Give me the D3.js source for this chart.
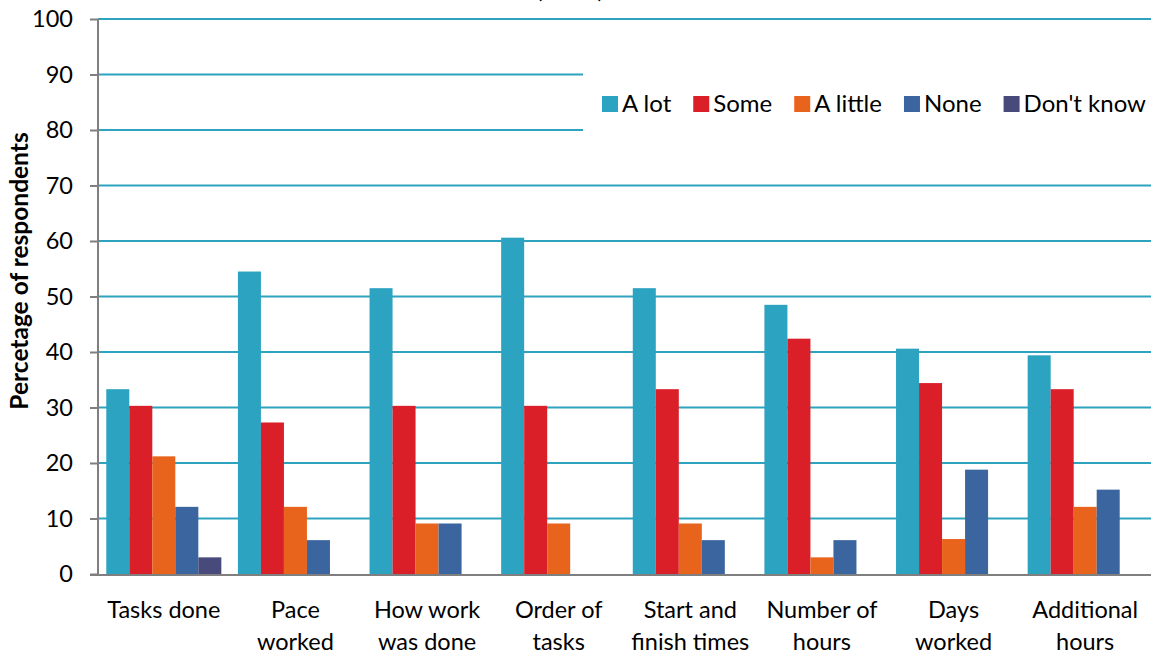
<!DOCTYPE html>
<html lang="en">
<head>
<meta charset="UTF-8">
<script src="https://d3js.org/d3.v7.min.js"></script>
<title>Control over work</title>
<style>
    body { margin: 0; background: #fff; }
    svg { display: block; font-family: Lato, "Open Sans", sans-serif; }
</style>
</head>
<body>
<svg width="1151" height="655"></svg>
<script>
    // data (percent of respondents)
    var categories = [["Tasks done"], ["Pace", "worked"], ["How work", "was done"], ["Order of", "tasks"],
        ["Start and", "finish times"], ["Number of", "hours"], ["Days", "worked"], ["Additional", "hours"]];
    var seriesNames = ["A lot", "Some", "A little", "None", "Don't know"];
    var aLot     = [33.3, 54.5, 51.5, 60.6, 51.5, 48.5, 40.6, 39.4];
    var some     = [30.3, 27.3, 30.3, 30.3, 33.3, 42.4, 34.4, 33.3];
    var aLittle  = [21.2, 12.1, 9.1, 9.1, 9.1, 3.0, 6.3, 12.1];
    var none     = [12.1, 6.1, 9.1, 0, 6.1, 6.1, 18.8, 15.2];
    var dontKnow = [3.0, 0, 0, 0, 0, 0, 0, 0];
    var yTicks = [0, 10, 20, 30, 40, 50, 60, 70, 80, 90, 100];

    var colors = ["#2ca3c0", "#da1f29", "#e8641c", "#3a659e", "#474a7a"];
    var seriesValues = [aLot, some, aLittle, none, dontKnow];

    var svg = d3.select("svg");
    var plotL = 98, plotR = 1151, plotT = 19, plotB = 574;
    var fs = 23.5;

    var x = d3.scaleBand().domain(d3.range(categories.length)).range([plotL, plotR]);
    var xs = d3.scaleBand().domain(d3.range(seriesNames.length))
        .range([0, x.bandwidth()]).paddingOuter(0.36);
    var y = d3.scaleLinear().domain([0, 100]).range([plotB, plotT]);

    // title (cropped at top)
    svg.append("text")
        .attr("x", 570).attr("y", -2)
        .attr("text-anchor", "middle")
        .attr("font-size", 24)
        .text("(n=33)");

    // gridlines
    svg.append("g").selectAll("line")
        .data(yTicks.filter(d => d > 0))
        .enter().append("line")
        .attr("x1", plotL).attr("x2", plotR)
        .attr("y1", d => y(d)).attr("y2", d => y(d))
        .attr("stroke", "#2ea3c0").attr("stroke-width", 2);

    // bars
    var groups = svg.append("g").selectAll("g")
        .data(seriesValues)
        .enter().append("g")
        .attr("fill", (d, i) => colors[i]);

    groups.each(function (vals, si) {
        d3.select(this).selectAll("rect")
            .data(vals)
            .enter().append("rect")
            .attr("x", (d, ci) => x(ci) + xs(si))
            .attr("y", d => y(d))
            .attr("width", xs.bandwidth())
            .attr("height", d => y(0) - y(d));
    });

    // y axis
    var yAxis = svg.append("g")
        .attr("transform", "translate(" + plotL + ",0)")
        .call(d3.axisLeft(y).tickValues(yTicks).tickSize(8).tickPadding(17));
    yAxis.selectAll("path, line").attr("stroke", "#7f7f7f").attr("stroke-width", 2);
    yAxis.select(".domain").attr("d", "M0," + y(0) + "V" + y(100));
    yAxis.selectAll("text").attr("font-size", fs).attr("fill", "#000")
        .attr("font-family", "Lato, sans-serif");

    // x axis line
    svg.append("line")
        .attr("x1", plotL - 8).attr("x2", plotR)
        .attr("y1", y(0) + 1).attr("y2", y(0) + 1)
        .attr("stroke", "#7f7f7f").attr("stroke-width", 2);

    // category labels
    var catLabels = svg.append("g").selectAll("text")
        .data(categories)
        .enter().append("text")
        .attr("text-anchor", "middle")
        .attr("font-size", fs)
        .attr("x", (d, i) => x(i) + x.bandwidth() / 2)
        .attr("y", 618);
    catLabels.selectAll("tspan")
        .data(d => d)
        .enter().append("tspan")
        .attr("x", function () { return d3.select(this.parentNode).attr("x"); })
        .attr("dy", (d, i) => i === 0 ? 0 : 32)
        .text(d => d);

    // y title
    svg.append("text")
        .attr("transform", "translate(28,271) rotate(-90)")
        .attr("text-anchor", "middle")
        .attr("font-size", 24.5)
        .attr("font-weight", "bold")
        .text("Percetage of respondents");

    // legend
    svg.append("rect")
        .attr("x", 583).attr("y", 68).attr("width", plotR - 583).attr("height", 66)
        .attr("fill", "#fff");
    var lx = 602;
    seriesNames.forEach(function (name, i) {
        svg.append("rect")
            .attr("x", lx).attr("y", 96).attr("width", 16).attr("height", 16)
            .attr("fill", colors[i]);
        var t = svg.append("text")
            .attr("x", lx + 20).attr("y", 112)
            .attr("font-size", 24)
            .text(name);
        lx += 20 + t.node().getComputedTextLength() + 22;
    });
</script>
</body>
</html>
